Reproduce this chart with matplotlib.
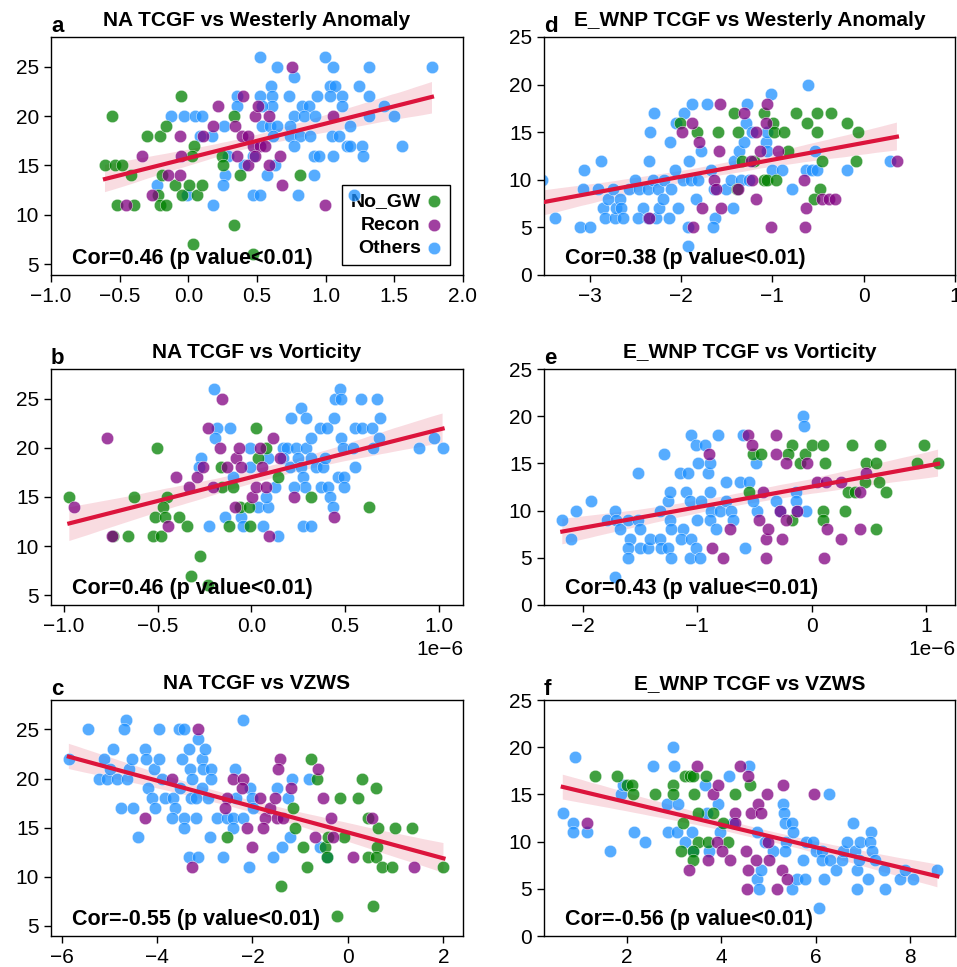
import numpy as np
import matplotlib
matplotlib.use("Agg")
import matplotlib.pyplot as plt
import seaborn as sns

plt.rcParams['font.family'] = ['Liberation Sans', 'DejaVu Sans']

# ---------------- data: (x, TCGF) per group ----------------
# Panel a: NA TCGF vs Westerly Anomaly
A_NOGW = [(-0.558,20),(-0.607,15),(-0.534,15),(-0.485,15),(-0.42,14),(-0.517,11),(-0.395,11),(-0.303,18),
          (-0.206,18),(-0.162,19),(-0.194,14),(-0.218,12),(-0.206,11),(-0.162,11),(-0.096,13),(-0.048,12),
          (0.008,13),(0.061,12),(0.098,13),(-0.055,22),(0.044,17),(0.025,16),(0.032,7),(0.244,16),(0.251,15),
          (0.329,20),(0.377,14),(0.333,9),(0.474,6),(0.81,14)]
A_RECON = [(-0.334,16),(-0.453,11),(-0.262,12),(-0.145,14),(-0.06,14),(-0.06,18),(-0.053,16),(0.11,18),
           (0.183,19),(0.214,21),(0.341,19),(0.401,22),(0.358,16),(0.389,18),(0.438,18),(0.438,15),(0.487,20),
           (0.504,21),(0.474,17),(0.523,17),(0.559,17),(0.487,16),(0.584,20),(0.591,15),(0.669,16),(0.681,13),
           (0.754,25),(1.057,20),(0.997,11)]
A_OTHERS = [(0.523,26),(0.644,25),(0.771,24),(0.997,26),(1.057,25),(1.312,25),(1.774,25),(0.601,23),(0.523,22),
            (0.608,22),(0.73,22),(0.936,22),(1.033,23),(1.069,23),(1.033,22),(1.118,22),(1.24,23),(1.312,22),
            (0.353,22),(0.358,21),(0.608,21),(0.535,21),(0.827,21),(0.875,21),(1.118,21),(1.422,21),(-0.126,20),
            (-0.028,20),(0.049,20),(0.098,20),(0.535,19),(0.596,19),(0.644,19),(0.766,20),(0.839,20),(0.924,20),
            (1.312,20),(1.494,20),(0.263,19),(0.742,19),(1.179,19),(0.086,18),(0.171,18),(0.742,18),(0.815,18),
            (0.883,18),(1.045,18),(1.094,18),(0.62,18),(0.766,17),(1.155,17),(1.179,17),(1.264,17),(1.555,17),
            (0.912,16),(0.948,16),(1.057,16),(1.271,16),(0.474,16),(0.292,16),(0.406,15),(0.632,15),(0.268,14),
            (0.572,14),(0.912,14),(0.256,13),(-0.23,13),(-0.011,12),(0.474,12),(0.523,12),(0.795,12),(1.203,12),
            (0.183,11)]

# Panel d: E_WNP TCGF vs Westerly Anomaly
D_NOGW = [(-2.007,16),(-1.825,15),(-1.6,15),(-1.418,17),(-1.371,15),(-1.382,9),(-1.327,12),(-1.2,12),(-1.091,17),
          (-0.993,16),(-0.982,15),(-0.873,15),(-1.091,10),(-1.055,10),(-0.956,10),(-0.825,13),(-0.745,17),
          (-0.618,16),(-0.509,17),(-0.509,15),(-0.455,12),(-0.473,9),(-0.545,8),(-0.353,17),(-0.182,16),
          (-0.08,12),(-0.062,15)]
D_RECON = [(-2.345,6),(-1.989,15),(-1.88,16),(-1.8,14),(-1.865,5),(-1.771,7),(-1.636,10),(-1.618,9),(-1.582,13),
           (-1.571,18),(-1.564,7),(-1.371,9),(-1.309,17),(-1.236,12),(-1.218,10),(-1.175,15),(-1.175,8),
           (-1.138,13),(-1.073,16),(-1.055,18),(-1.018,5),(-0.935,13),(-0.655,10),(-0.636,7),(-0.644,5),
           (-0.455,8),(-0.382,8),(-0.309,8),(0.364,12)]
D_OTHERS = [(-3.52,10),(-3.382,6),(-3.109,5),(-2.993,5),(-3.065,11),(-3.073,9),(-2.88,12),(-2.909,9),(-2.855,7),
            (-2.836,6),(-2.8,8),(-2.745,9),(-2.727,6),(-2.709,7),(-2.673,8),(-2.655,7),(-2.636,6),(-2.564,9),
            (-2.509,10),(-2.455,9),(-2.418,7),(-2.473,6),(-2.364,6),(-2.364,9),(-2.345,12),(-2.338,15),
            (-2.291,17),(-2.309,10),(-2.273,6),(-2.244,7),(-2.255,9),(-2.182,10),(-2.2,8),(-2.127,6),(-2.12,14),
            (-2.11,9),(-2.062,11),(-2.036,7),(-2.055,16),(-1.964,17),(-1.982,10),(-1.909,12),(-1.891,10),
            (-1.88,18),(-1.818,10),(-1.836,8),(-1.927,5),(-1.92,3),(-1.782,13),(-1.716,18),(-1.673,11),
            (-1.636,9),(-1.625,6),(-1.655,5),(-1.51,9),(-1.436,7),(-1.455,10),(-1.418,12),(-1.364,13),
            (-1.345,10),(-1.309,14),(-1.291,16),(-1.273,18),(-1.255,10),(-1.218,15),(-1.073,14),(-1.055,15),
            (-1.018,19),(-1.055,13),(-1.0,11),(-0.891,11),(-0.789,9),(-0.607,20),(-0.636,11),(-0.564,11),
            (-0.535,13),(-0.51,11),(-0.182,11),(0.291,12)]

# Panel b: NA TCGF vs Vorticity (x in units of 1e-6)
B_NOGW = [(-0.972,15),(-0.627,15),(-0.503,20),(-0.453,15),(-0.474,14),(-0.515,13),(-0.462,13),(-0.385,13),
          (-0.346,12),(-0.524,11),(-0.485,11),(-0.657,11),(-0.737,11),(-0.275,9),(-0.325,7),(-0.231,6),
          (-0.16,18),(-0.155,16),(-0.098,16),(-0.062,14),(-0.012,14),(-0.119,12),(-0.005,12),(0.027,22),
          (0.036,19),(0.076,20),(0.142,17),(0.32,15),(0.627,14)]
B_RECON = [(-0.769,21),(-0.945,14),(-0.746,11),(-0.444,12),(-0.403,17),(-0.332,16),(-0.293,17),(-0.258,18),
           (-0.231,22),(-0.204,16),(-0.169,20),(-0.155,25),(-0.128,18),(-0.08,19),(-0.066,20),(-0.053,18),
           (-0.089,14),(0.005,15),(0.023,16),(0.044,20),(0.059,18),(0.08,16),(0.115,21),(0.151,19),(0.094,11),
           (0.226,15),(0.439,13)]
B_OTHERS = [(-0.2,26),(-0.27,19),(-0.279,18),(-0.186,22),(-0.112,22),(-0.195,21),(-0.226,12),(-0.142,13),
            (-0.098,17),(-0.053,13),(-0.044,12),(-0.005,20),(-0.005,18),(0.036,14),(0.089,14),(0.08,15),
            (0.062,12),(0.142,11),(0.089,19),(0.124,16),(0.169,20),(0.19,20),(0.169,19),(0.204,18),(0.24,20),
            (0.249,19),(0.267,18),(0.275,17),(0.284,16),(0.226,16),(0.293,20),(0.32,19),(0.32,21),(0.346,18),
            (0.382,18),(0.391,19),(0.364,22),(0.403,22),(0.266,24),(0.289,23),(0.213,23),(0.275,12),(0.32,12),
            (0.373,16),(0.408,16),(0.421,15),(0.435,14),(0.439,23),(0.444,25),(0.471,26),(0.479,25),(0.479,21),
            (0.488,20),(0.462,17),(0.497,17),(0.497,16),(0.542,20),(0.551,18),(0.551,22),(0.592,22),(0.586,25),
            (0.645,22),(0.652,20),(0.67,25),(0.687,23),(0.684,21),(0.897,20),(0.977,21),(1.021,20)]

# Panel e: E_WNP TCGF vs Vorticity (x in units of 1e-6)
E_NOGW = [(-0.552,12),(-0.514,16),(-0.441,16),(-0.171,17),(-0.208,16),(-0.107,15),(-0.171,9),(-0.063,16),
          (0.004,17),(0.097,17),(0.112,15),(0.097,10),(0.097,9),(0.287,10),(0.316,12),(0.374,12),(0.351,17),
          (0.476,15),(0.461,13),(0.557,15),(0.557,8),(0.587,13),(0.592,17),(0.651,12),(0.919,15),(0.977,17),
          (1.102,15)]
E_RECON = [(-0.899,16),(-0.87,6),(-0.777,5),(-0.712,8),(-0.558,18),(-0.52,17),(-0.427,12),(-0.462,9),
           (-0.398,7),(-0.383,8),(-0.398,5),(-0.31,18),(-0.31,16),(-0.281,10),(-0.258,7),(-0.223,15),
           (-0.223,9),(-0.13,10),(-0.043,15),(0.047,13),(0.121,13),(0.103,5),(0.132,8),(0.257,13),(0.257,7),
           (0.424,12),(0.424,8),(0.476,14)]
E_OTHERS = [(-2.18,9),(-2.102,7),(-2.064,10),(-1.927,11),(-1.79,9),(-1.723,10),(-1.709,9),(-1.68,8),(-1.723,3),
            (-1.607,9),(-1.592,7),(-1.607,6),(-1.607,5),(-1.519,9),(-1.505,8),(-1.505,6),(-1.52,14),(-1.432,6),
            (-1.417,7),(-1.33,10),(-1.33,7),(-1.315,6),(-1.295,16),(-1.257,11),(-1.243,12),(-1.237,9),
            (-1.228,8),(-1.257,6),(-1.228,5),(-1.155,14),(-1.082,14),(-1.126,8),(-1.141,7),(-1.097,12),
            (-1.068,11),(-1.068,5),(-1.053,7),(-1.053,18),(-1.01,17),(-1.0,9),(-1.01,6),(-0.98,5),(-0.995,15),
            (-0.937,17),(-0.966,11),(-0.908,14),(-0.893,15),(-0.893,12),(-0.879,10),(-0.893,9),(-0.835,8),
            (-0.82,18),(-0.806,10),(-0.747,13),(-0.747,11),(-0.704,10),(-0.689,9),(-0.631,13),(-0.602,18),
            (-0.587,6),(-0.549,13),(-0.485,15),(-0.479,10),(-0.514,11),(-0.31,11),(-0.281,10),(-0.142,12),
            (-0.142,11),(-0.127,10),(-0.078,20),(-0.072,19),(-0.054,10)]

# Panel c: NA TCGF vs VZWS
C_NOGW = [(-0.78,22),(-0.64,20),(-1.157,17),(-1.108,15),(-2.527,14),(-0.948,13),(-0.85,11),(-1.409,9),
          (-0.479,13),(-0.43,12),(-0.409,14),(-0.165,18),(-0.081,14),(-0.221,6),(0.219,18),(0.289,20),
          (0.59,19),(0.429,16),(0.639,15),(0.618,13),(0.429,12),(0.59,12),(0.709,11),(0.918,11),(0.988,15),
          (1.337,15),(0.52,7),(2.001,11)]
C_RECON = [(-3.135,25),(-3.694,20),(-4.253,16),(-3.275,11),(-2.541,18),(-2.576,17),(-2.401,20),(-2.205,20),
           (-2.226,19),(-2.108,15),(-2.017,13),(-1.842,18),(-1.737,16),(-1.632,17),(-1.528,18),(-1.772,15),
           (-1.479,16),(-1.367,16),(-1.423,22),(-1.458,21),(-1.199,19),(-0.619,21),(-0.528,18),(-0.36,16),
           (-0.689,14),(-0.305,14),(0.101,12),(0.499,16),(1.386,11)]
C_OTHERS = [(-5.846,22),(-5.455,25),(-5.112,22),(-5.21,20),(-5.057,20),(-4.987,21),(-4.931,23),(-4.847,20),
            (-4.651,26),(-4.693,25),(-4.623,20),(-4.581,21),(-4.532,22),(-4.756,17),(-4.512,17),(-4.393,14),
            (-4.253,23),(-4.232,22),(-4.064,21),(-4.183,19),(-4.113,18),(-4.043,17),(-3.952,25),(-3.952,22),
            (-3.904,20),(-3.834,18),(-3.673,18),(-3.624,17),(-3.694,16),(-3.533,25),(-3.435,25),(-3.484,22),
            (-3.323,23),(-3.309,21),(-3.275,20),(-3.519,19),(-3.435,16),(-3.435,15),(-3.295,18),(-3.184,18),
            (-3.135,24),(-3.065,22),(-2.995,23),(-3.044,21),(-2.876,21),(-2.876,20),(-3.051,19),(-2.925,18),
            (-3.177,16),(-2.89,14),(-3.323,12),(-3.135,12),(-2.75,16),(-2.625,12),(-2.541,16),(-2.415,16),
            (-2.366,21),(-2.345,18),(-2.401,15),(-2.205,26),(-2.205,16),(-2.052,19),(-2.017,18),(-1.982,17),
            (-2.066,11),(-1.493,19),(-1.178,20),(-1.248,18),(-1.213,14),(-1.388,13),(-1.563,12),(-0.808,20),
            (-0.584,13),(-0.444,12)]

# Panel f: E_WNP TCGF vs VZWS
F_NOGW = [(1.33,17),(1.788,17),(2.0,16),(2.106,16),(2.141,15),(2.6,15),(2.974,16),(2.974,15),(3.2,12),(3.143,9),
          (3.235,17),(3.341,17),(3.411,17),(3.426,15),(3.517,13),(3.517,10),(3.411,9),(3.397,8),(3.68,17),
          (3.729,10),(3.821,13),(4.032,12),(4.152,10),(4.294,15),(4.611,16)]
F_RECON = [(1.153,12),(3.327,7),(3.496,18),(3.729,8),(3.821,15),(3.941,16),(3.92,10),(4.011,9),(4.188,8),
           (4.294,13),(4.294,12),(4.399,18),(4.576,17),(4.527,9),(4.541,5),(4.576,7),(4.625,13),(4.788,14),
           (4.837,13),(4.738,8),(4.978,15),(4.999,10),(5.02,8),(5.176,5),(5.282,7),(5.317,16),(5.402,6),
           (5.966,15)]
F_OTHERS = [(0.645,13),(0.906,19),(0.857,12),(0.857,11),(1.167,11),(1.647,9),(1.873,15),(1.929,16),(2.155,11),
            (2.388,10),(2.565,18),(2.847,14),(2.882,11),(2.988,20),(3.002,18),(3.094,14),(3.059,11),(3.235,10),
            (3.376,11),(3.411,9),(3.658,16),(3.694,13),(3.75,9),(3.941,14),(3.976,11),(4.174,17),(4.258,12),
            (4.597,18),(4.752,11),(4.766,6),(4.837,7),(4.809,5),(4.929,10),(5.091,9),(5.317,14),(5.331,13),
            (5.352,12),(5.373,10),(5.352,9),(5.493,12),(5.514,11),(5.493,5),(5.613,6),(5.726,8),(5.776,6),
            (5.797,10),(5.952,10),(6.008,9),(6.079,3),(6.128,9),(6.128,8),(6.178,6),(6.305,8),(6.291,15),
            (6.432,7),(6.552,8),(6.573,9),(6.658,10),(6.785,12),(6.834,9),(6.884,7),(6.869,5),(6.94,10),
            (6.926,8),(7.116,6),(7.166,11),(7.152,10),(7.187,9),(7.258,8),(7.448,7),(7.469,5),(7.787,6),
            (7.893,7),(8.069,6),(8.577,7)]

GROUPS = ['No_GW', 'Recon', 'Others']
COLORS = {'No_GW': 'green', 'Recon': 'purple', 'Others': 'dodgerblue'}

TITLES = ['NA TCGF vs Westerly Anomaly', 'NA TCGF vs Vorticity', 'NA TCGF vs VZWS',
          'E_WNP TCGF vs Westerly Anomaly', 'E_WNP TCGF vs Vorticity', 'E_WNP TCGF vs VZWS']
LETTERS = ['a', 'b', 'c', 'd', 'e', 'f']
COR_TEXT = ['Cor=0.46 (p value<0.01)', 'Cor=0.46 (p value<0.01)', 'Cor=-0.55 (p value<0.01)',
            'Cor=0.38 (p value<0.01)', 'Cor=0.43 (p value<=0.01)', 'Cor=-0.56 (p value<0.01)']
DATA = [(A_NOGW, A_RECON, A_OTHERS), (B_NOGW, B_RECON, B_OTHERS), (C_NOGW, C_RECON, C_OTHERS),
        (D_NOGW, D_RECON, D_OTHERS), (E_NOGW, E_RECON, E_OTHERS), (F_NOGW, F_RECON, F_OTHERS)]
XSCALE = [1.0, 1e-6, 1.0, 1.0, 1e-6, 1.0]
XLIMS = [(-1.0, 2.0), (-1.07e-6, 1.13e-6), (-6.22, 2.41), (-3.5, 1.0), (-2.34e-6, 1.25e-6), (0.247, 8.95)]
XTICKS = [np.arange(-1.0, 2.01, 0.5), np.arange(-1.0, 1.01, 0.5) * 1e-6, np.arange(-6, 2.1, 2),
          np.arange(-3, 1.1, 1), np.arange(-2, 1.1, 1) * 1e-6, np.arange(2, 8.1, 2)]
YLIMS = [(3.9, 28.0), (4.0, 28.0), (3.95, 28.0), (0, 25), (0, 25), (0, 25)]
YTICKS = [[5, 10, 15, 20, 25]] * 3 + [[0, 5, 10, 15, 20, 25]] * 3

# ---------------- layout ----------------
W, H = 957, 967
fig = plt.figure(figsize=(W / 100, H / 100), dpi=100)
col_left = [51, 544]
col_w = [412, 411]
rows = [(37, 275), (369, 605), (700, 936)]

FS = 15
for i in range(6):
    col, row = i // 3, i % 3
    top, bot = rows[row]
    ax = fig.add_axes([col_left[col] / W, (H - bot) / H, col_w[col] / W, (bot - top) / H])
    allx, ally = [], []
    handles = {}
    for g, pts in zip(GROUPS, DATA[i]):
        xs = np.array([p[0] for p in pts]) * XSCALE[i]
        ys = np.array([p[1] for p in pts], dtype=float)
        allx.append(xs)
        ally.append(ys)
    # draw Others first, then No_GW, Recon
    for gi in [2, 0, 1]:
        g = GROUPS[gi]
        handles[g] = ax.scatter(allx[gi], ally[gi], s=80, color=COLORS[g], alpha=0.75,
                                edgecolors='white', linewidths=0.4, zorder=2, label=g)
    X = np.concatenate(allx)
    Y = np.concatenate(ally)
    sns.regplot(x=X, y=Y, scatter=False, ax=ax, color='crimson', ci=95, seed=3,
                line_kws={'lw': 3, 'zorder': 3})
    ax.set_xlim(*XLIMS[i])
    ax.set_ylim(*YLIMS[i])
    ax.set_xticks(XTICKS[i])
    ax.set_yticks(YTICKS[i])
    ax.set_xlabel('')
    ax.set_ylabel('')
    ax.tick_params(labelsize=FS, length=5, width=1, direction='out')
    ax.xaxis.get_offset_text().set_fontsize(FS)
    for sp in ax.spines.values():
        sp.set_linewidth(1.0)
        sp.set_color('black')
    ax.set_title(TITLES[i], fontsize=FS, fontweight='bold', pad=8)
    ax.text(0.0, 1.02, LETTERS[i], transform=ax.transAxes, fontsize=16, fontweight='bold',
            ha='left', va='baseline')
    ax.text(0.05, 0.045, COR_TEXT[i], transform=ax.transAxes, fontsize=15.5, fontweight='bold',
            ha='left', va='baseline', zorder=6)
    if i == 0:
        leg = ax.legend(handles=[handles[g] for g in GROUPS], labels=GROUPS, loc='lower right',
                        bbox_to_anchor=(0.968, 0.042), borderaxespad=0, markerfirst=False,
                        fancybox=False, edgecolor='black', framealpha=1,
                        prop={'weight': 'bold', 'size': 14}, handletextpad=0.3, borderpad=0.4,
                        labelspacing=0.3, handlelength=0.8)
        leg.get_frame().set_linewidth(1.0)
        leg.set_zorder(1.5)

fig.savefig('out.png', dpi=100)
